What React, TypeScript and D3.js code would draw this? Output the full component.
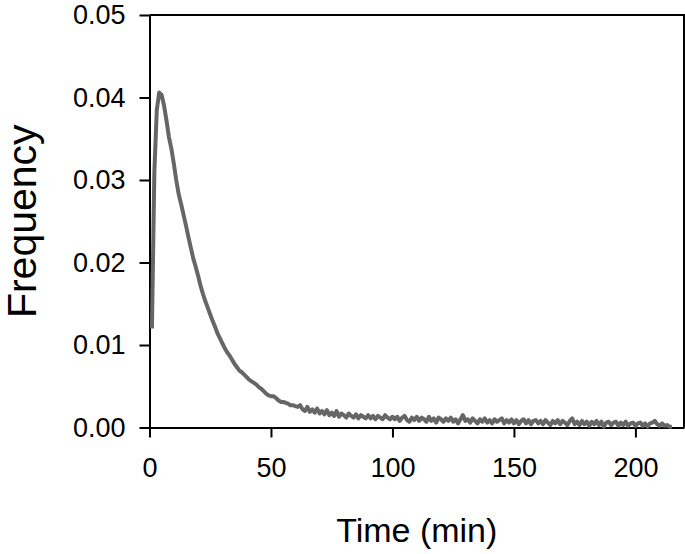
import React, { useRef, useEffect } from "react";
import * as d3 from "d3";

// time bins (min), one per minute
const timeMin: number[] = d3.range(1, 216);

// frequency per bin
const frequency: number[] = [
  0.012, 0.031, 0.0385, 0.0406, 0.0403, 0.039, 0.0372, 0.0352, 0.0338, 0.032,
  0.03, 0.0283, 0.0271, 0.0258, 0.0245, 0.0231, 0.0218, 0.0205, 0.0195, 0.0184,
  0.0172, 0.0162, 0.0153, 0.0145, 0.0137, 0.0129, 0.0122, 0.0114, 0.0108, 0.0102,
  0.0096, 0.0091, 0.0087, 0.0082, 0.0077, 0.0073, 0.0069, 0.0067, 0.0064, 0.0061,
  0.0058, 0.0056, 0.0054, 0.0052, 0.0049, 0.0047, 0.0044, 0.0041, 0.0039, 0.0038,
  0.0038, 0.0036, 0.0033, 0.0031, 0.0031, 0.003, 0.0029, 0.0027, 0.0027, 0.0026,
  0.0025, 0.0027, 0.0022, 0.002, 0.0025, 0.0019, 0.0022, 0.0018, 0.0023, 0.0017,
  0.002, 0.0016, 0.0021, 0.0015, 0.0018, 0.0014, 0.002, 0.0013, 0.0017, 0.0015,
  0.0012, 0.0017, 0.0014, 0.0012, 0.0016, 0.0011, 0.0015, 0.0013, 0.0011, 0.0015,
  0.0011, 0.0014, 0.001, 0.0014, 0.0012, 0.001, 0.0015, 0.0012, 0.001, 0.0013,
  0.001, 0.0013, 0.0008, 0.0012, 0.0014, 0.0009, 0.0007, 0.0012, 0.0009, 0.0013,
  0.0008, 0.0012, 0.001, 0.0007, 0.0013, 0.0008, 0.0011, 0.0006, 0.0012, 0.001,
  0.0007, 0.0011, 0.0008, 0.0012, 0.0007, 0.001, 0.0005, 0.001, 0.0015, 0.0008,
  0.001, 0.0006, 0.0011, 0.0008, 0.0005, 0.001, 0.0007, 0.0011, 0.0006, 0.0009,
  0.0005, 0.001, 0.0007, 0.0009, 0.0011, 0.0005, 0.0009, 0.0006, 0.001, 0.0005,
  0.0009, 0.0004, 0.0008, 0.001, 0.0005, 0.0009, 0.0004, 0.0008, 0.0009, 0.0005,
  0.0008, 0.0004, 0.0009, 0.0006, 0.0003, 0.0008, 0.0005, 0.0009, 0.0004, 0.0008,
  0.0006, 0.0003, 0.0008, 0.0011, 0.0004, 0.0007, 0.0003, 0.0008, 0.0004, 0.0007,
  0.0002, 0.0007, 0.0004, 0.0008, 0.0003, 0.0007, 0.0001, 0.0006, 0.0007, 0.0003,
  0.0006, 0.0007, 0.0002, 0.0006, 0.0003, 0.0007, 0.0002, 0.0005, 0.0006, 0.0002,
  0.0005, 0.0006, 0.0002, 0.0005, 0.0001, 0.0005, 0.0006, 0.0008, 0.0004, 0.0002,
  0.0005, 0.0002, 0.0003, 0.0001, 0.0001,
];

const xTicks = [0, 50, 100, 150, 200];
const yTicks = [0, 0.01, 0.02, 0.03, 0.04, 0.05];

const WIDTH = 685;
const HEIGHT = 554;
const FONT = "'Liberation Sans', Arial, sans-serif";

const FrequencyChart = () => {
  const svgRef = useRef<SVGSVGElement>(null);

  useEffect(() => {
    const svg = d3.select(svgRef.current);
    svg.selectAll("*").remove();

    const margin = { top: 15, right: 1, bottom: 126.5, left: 149.5 };

    const x = d3
      .scaleLinear()
      .domain([0, 220])
      .range([margin.left, WIDTH - margin.right]);

    const y = d3
      .scaleLinear()
      .domain([0, 0.05])
      .range([HEIGHT - margin.bottom, margin.top]);

    const data = timeMin.map((t, i) => ({ t, v: frequency[i] }));

    // frame (top + right)
    svg
      .append("path")
      .attr("d", `M${x(0)},${y(0.05)}H${x(220)}V${y(0)}`)
      .attr("fill", "none")
      .attr("stroke", "#000")
      .attr("stroke-width", 2);

    // x axis
    const gx = svg
      .append("g")
      .attr("transform", `translate(0,${y(0)})`)
      .call(
        d3
          .axisBottom(x)
          .tickValues(xTicks)
          .tickSize(10)
          .tickSizeOuter(0)
          .tickPadding(20)
          .tickFormat(d3.format("d"))
      );

    // y axis
    const gy = svg
      .append("g")
      .attr("transform", `translate(${x(0)},0)`)
      .call(
        d3
          .axisLeft(y)
          .tickValues(yTicks)
          .tickSize(10)
          .tickSizeOuter(0)
          .tickPadding(14)
          .tickFormat(d3.format(".2f"))
      );

    [gx, gy].forEach((g) => {
      g.select(".domain").attr("stroke", "#000").attr("stroke-width", 2);
      g.selectAll(".tick line").attr("stroke", "#000").attr("stroke-width", 2);
      g.selectAll(".tick text")
        .attr("fill", "#000")
        .style("font-family", FONT)
        .style("font-size", "27px");
    });

    // curve
    svg
      .append("path")
      .datum(data)
      .attr("fill", "none")
      .attr("stroke", "#666666")
      .attr("stroke-width", 4)
      .attr("stroke-linejoin", "round")
      .attr(
        "d",
        d3
          .line<{ t: number; v: number }>()
          .x((d) => x(d.t))
          .y((d) => y(d.v))
      );

    // axis titles
    svg
      .append("text")
      .attr("x", (x(0) + x(220)) / 2)
      .attr("y", 542)
      .attr("text-anchor", "middle")
      .style("font-family", FONT)
      .style("font-size", "34px")
      .text("Time (min)");

    svg
      .append("text")
      .attr("transform", `translate(36,${(y(0) + y(0.05)) / 2}) rotate(-90)`)
      .attr("text-anchor", "middle")
      .style("font-family", FONT)
      .style("font-size", "41px")
      .text("Frequency");
  }, []);

  return (
    <svg
      ref={svgRef}
      width={WIDTH}
      height={HEIGHT}
      style={{ position: "absolute", left: 0, top: 0, background: "white" }}
    ></svg>
  );
};

export default function App() {
  return <FrequencyChart />;
}
